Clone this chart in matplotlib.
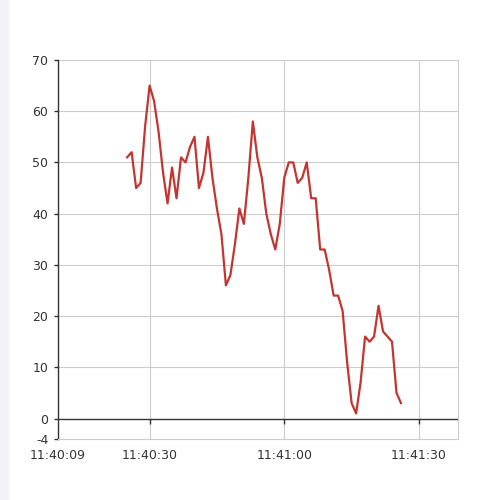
import numpy as np
from matplotlib import pyplot as plt

plt.rcParams["axes.unicode_minus"] = False

# seconds after 11:40:00, one sample per second from 11:40:25
start_sec = 25
values = [51, 52, 45, 46, 57, 65, 62, 56, 48, 42,
          49, 43, 51, 50, 53, 55, 45, 48, 55, 47,
          41, 36, 26, 28, 34, 41, 38, 47, 58, 51,
          47, 40, 36, 33, 38, 47, 50, 50, 46, 47,
          50, 43, 43, 33, 33, 29, 24, 24, 21, 11,
          3, 1, 7, 16, 15, 16, 22, 17, 16, 15,
          5, 3]
secs = np.arange(len(values)) + start_sec

x_ticks = [9.6, 30, 60, 90]
x_labels = ["11:40:09", "11:40:30", "11:41:00", "11:41:30"]
y_ticks = [-4, 0, 10, 20, 30, 40, 50, 60, 70]
x_min, x_max = 9.6, 98.7
y_min, y_max = -4, 70

fig = plt.figure(figsize=(5, 5), dpi=100)
fig.patch.set_facecolor("white")
# thin light strip on the left edge
fig.add_artist(plt.Rectangle((0, 0), 8 / 500, 1, transform=fig.transFigure,
                             color="#f2f2f7", zorder=0))

ax = fig.add_axes([58 / 500, 1 - 439 / 500, 400 / 500, 379 / 500])

grid_c = "#cccccc"
for yv in y_ticks[2:]:
    ax.axhline(yv, color=grid_c, lw=0.8, zorder=1)
for xv in x_ticks[1:]:
    ax.axvline(xv, color=grid_c, lw=0.8, zorder=1)

ax.axhline(0, color="#333333", lw=1.0, zorder=2)
ax.vlines(x_ticks[1:], -1.0, 0, color="#333333", lw=1.0, zorder=2)

ax.plot(secs, values, color="#c23531", lw=1.6, zorder=3)

ax.set_xlim(x_min, x_max)
ax.set_ylim(y_min, y_max)
ax.set_xticks(x_ticks)
ax.set_xticklabels(x_labels)
ax.set_yticks(y_ticks)

ax.spines["top"].set_visible(False)
ax.spines["left"].set_color("#333333")
ax.spines["left"].set_linewidth(1.0)
ax.spines["right"].set_color(grid_c)
ax.spines["right"].set_linewidth(0.8)
ax.spines["bottom"].set_color(grid_c)
ax.spines["bottom"].set_linewidth(0.8)

ax.tick_params(axis="x", length=0, pad=7, labelsize=9, labelcolor="#333333")
ax.tick_params(axis="y", length=3, width=1.0, color="#333333", pad=4,
               labelsize=9, labelcolor="#333333")

fig.savefig("out.png", dpi=100)
